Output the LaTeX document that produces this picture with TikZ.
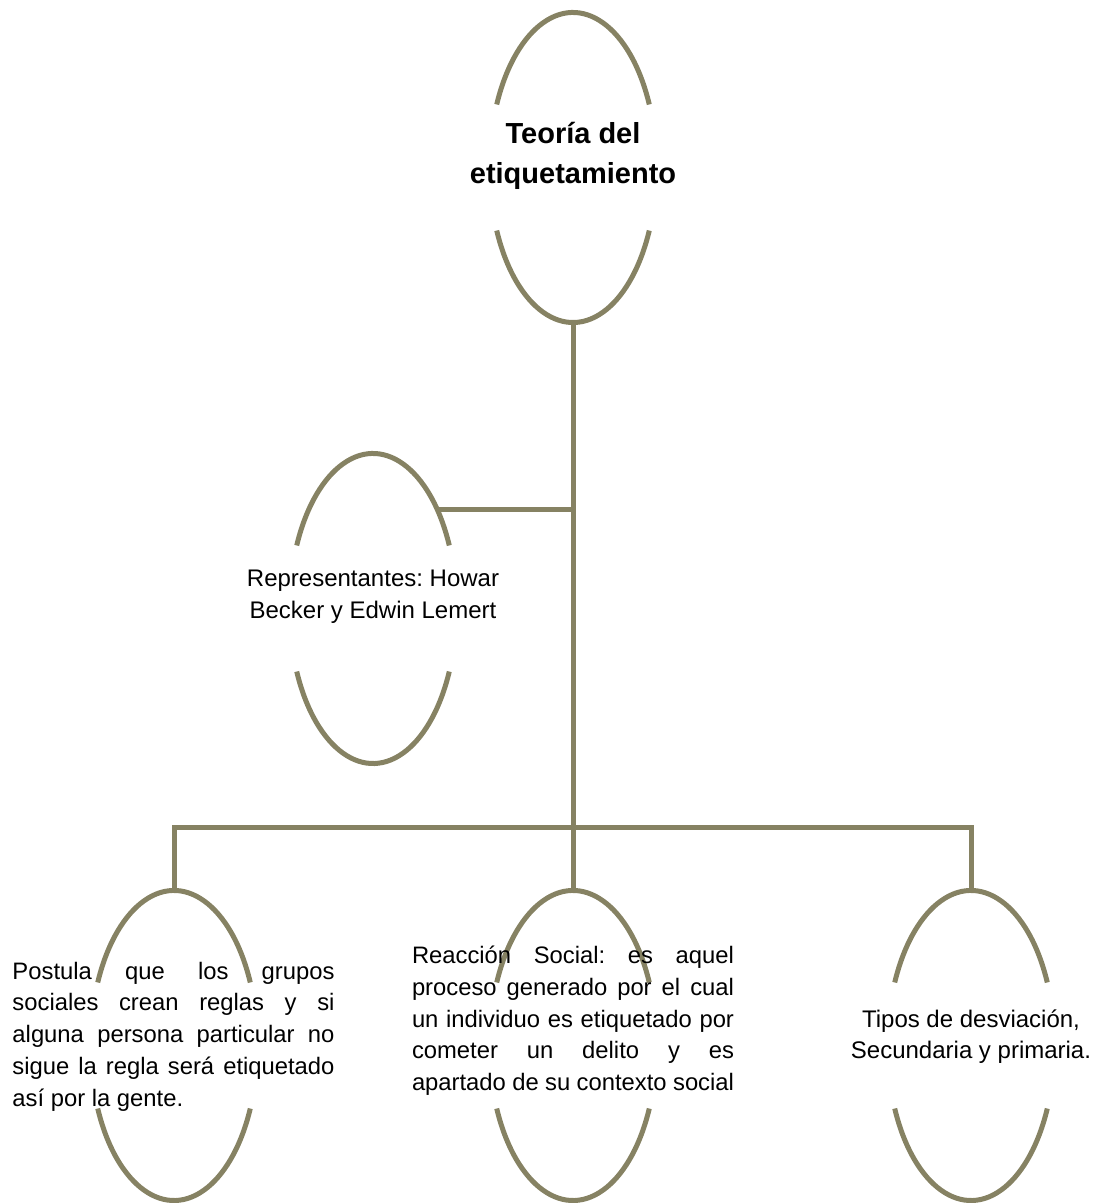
\documentclass[tikz,border=0pt]{standalone}
\usepackage{fontspec}
\setmainfont{Liberation Sans}
\usetikzlibrary{shapes.geometric,positioning}
\definecolor{olivegray}{RGB}{134,130,99}
\hbadness=10000
\hyphenpenalty=10000
\exhyphenpenalty=10000
\frenchspacing

\begin{document}
\begin{tikzpicture}[x=1pt, y=1pt]
    \tikzstyle{oval} = [ellipse, minimum width=167pt, minimum height=310pt, inner sep=0pt]
    \tikzstyle{rim} = [olivegray, line width=5pt]
    \tikzstyle{link} = [olivegray, line width=5pt]
    \tikzstyle{title} = [align=center, inner sep=0pt, font=\fontsize{29}{40}\selectfont\bfseries]
    \tikzstyle{smalltext} = [align=center, inner sep=0pt, font=\fontsize{24}{31.5}\selectfont]
    \tikzstyle{block} = [text width=322pt, align=justify, inner sep=0pt, font=\fontsize{23.8}{31.7}\selectfont]

    \useasboundingbox (0,0) rectangle (1094,1203);

    % Ellipses
    \node [oval] (teoria) at (573,1035.5) {};
    \node [oval] (repr) at (373,594.5) {};
    \node [oval] (reaccion) at (573,157.5) {};
    \node [oval] (postula) at (174,157.5) {};
    \node [oval] (tipos) at (971,157.5) {};

    \foreach \n in {teoria,repr,postula,reaccion,tipos} {
        \draw [rim] ([shift={(24:83.5 and 155)}]\n.center) arc [start angle=24, end angle=156, x radius=83.5, y radius=155];
        \draw [rim] ([shift={(204:83.5 and 155)}]\n.center) arc [start angle=204, end angle=336, x radius=83.5, y radius=155];
    }

    % Texts
    \node [title] (teoriaText) at ([yshift=11.5]teoria.center) {Teoría del\\etiquetamiento};
    \node [smalltext] (reprText) at ([yshift=12]repr.center) {Representantes: Howar\\Becker y Edwin Lemert};
    \node [block] (postulaText) at ([xshift=-0.5, yshift=9]postula.center) {Postula que los grupos\linebreak sociales crean reglas y si\linebreak alguna persona particular no\linebreak sigue la regla será etiquetado\linebreak así por la gente.};
    \node [block] (reaccionText) at ([xshift=0, yshift=24.5]reaccion.center) {Reacción Social: es aquel\linebreak proceso generado por el cual\linebreak un individuo es etiquetado por\linebreak cometer un delito y es\linebreak apartado de su contexto social};
    \node [smalltext] (tiposText) at ([yshift=9]tipos.center) {Tipos de desviación,\\Secundaria y primaria.};

    % Connectors
    \draw [link] (teoria.south) -- (reaccion.north);
    \draw [link] (repr.57) -- (repr.57 -| teoria.south);
    \draw [link] (postula.north) -- ++(0,63) -| (tipos.north);
\end{tikzpicture}
\end{document}
